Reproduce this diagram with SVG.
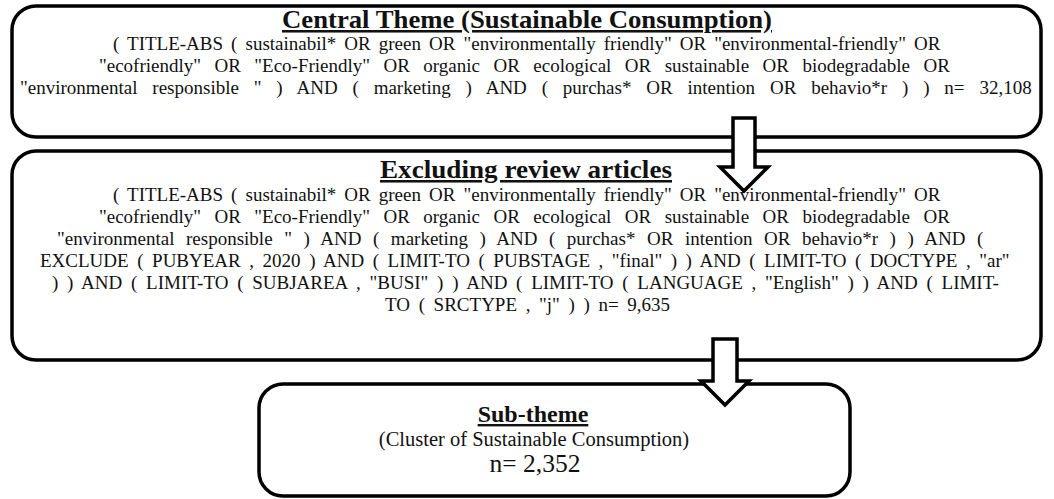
<svg xmlns="http://www.w3.org/2000/svg" width="1054" height="499" viewBox="0 0 1054 499">
<style>
.box{fill:#fff;stroke:#000;stroke-width:3.5}
.arrow{fill:#fff;stroke:#000;stroke-width:3.5;stroke-linejoin:miter}
text{font-family:"Liberation Serif","Times New Roman",serif;fill:#111}
.t{font-size:25.5px;font-weight:bold;text-decoration:underline;text-anchor:middle}
.s{font-size:24px;font-weight:bold;text-decoration:underline;text-anchor:middle}
.q{font-size:19px}
.c{font-size:20.5px;text-anchor:middle}
.n{font-size:25.5px;text-anchor:middle}
</style>
<rect width="1054" height="499" fill="#fff"/>
<g id="central-theme">
<rect class="box" x="12" y="6" width="1029" height="131" rx="24"/>
<text class="t" x="527" y="28" textLength="490" lengthAdjust="spacingAndGlyphs">Central Theme (Sustainable Consumption)</text>
<text class="q" x="113" y="50" word-spacing="3.3">( TITLE-ABS ( sustainabil* OR green OR "environmentally friendly" OR "environmental-friendly" OR</text>
<text class="q" x="99" y="72" word-spacing="8.7">"ecofriendly" OR "Eco-Friendly" OR organic OR ecological OR sustainable OR biodegradable OR</text>
<text class="q" x="20" y="94" word-spacing="10.1">"environmental responsible " ) AND ( marketing ) AND ( purchas* OR intention OR behavio*r ) ) n= 32,108</text>
</g>
<g id="excluding-review">
<rect class="box" x="12" y="151" width="1029" height="209" rx="24"/>
<text class="t" x="526" y="178" textLength="292" lengthAdjust="spacingAndGlyphs">Excluding review articles</text>
<text class="q" x="113" y="201" word-spacing="3.3">( TITLE-ABS ( sustainabil* OR green OR "environmentally friendly" OR "environmental-friendly" OR</text>
<text class="q" x="99" y="223" word-spacing="8.7">"ecofriendly" OR "Eco-Friendly" OR organic OR ecological OR sustainable OR biodegradable OR</text>
<text class="q" x="57" y="245" word-spacing="6.8">"environmental responsible " ) AND ( marketing ) AND ( purchas* OR intention OR behavio*r ) ) AND (</text>
<text class="q" x="40" y="267" word-spacing="3.8">EXCLUDE ( PUBYEAR , 2020 ) AND ( LIMIT-TO ( PUBSTAGE , "final" ) ) AND ( LIMIT-TO ( DOCTYPE , "ar"</text>
<text class="q" x="52" y="289" word-spacing="4">) ) AND ( LIMIT-TO ( SUBJAREA , "BUSI" ) ) AND ( LIMIT-TO ( LANGUAGE , "English" ) ) AND ( LIMIT-</text>
<text class="q" x="385" y="311" word-spacing="3.9">TO ( SRCTYPE , "j" ) ) n= 9,635</text>
</g>
<g id="sub-theme">
<rect class="box" x="259" y="384" width="591" height="112" rx="24"/>
<text class="s" x="533" y="422">Sub-theme</text>
<text class="c" x="534" y="446">(Cluster of Sustainable Consumption)</text>
<text class="n" x="535" y="472">n= 2,352</text>
</g>
<g id="connectors">
<path class="arrow" d="M733,118 H755 V167 H768 L744,191 L720,167 H733 Z"/>
<path class="arrow" d="M713,339 H737 V381 H749 L725,405 L701,381 H713 Z"/>
</g>
</svg>
